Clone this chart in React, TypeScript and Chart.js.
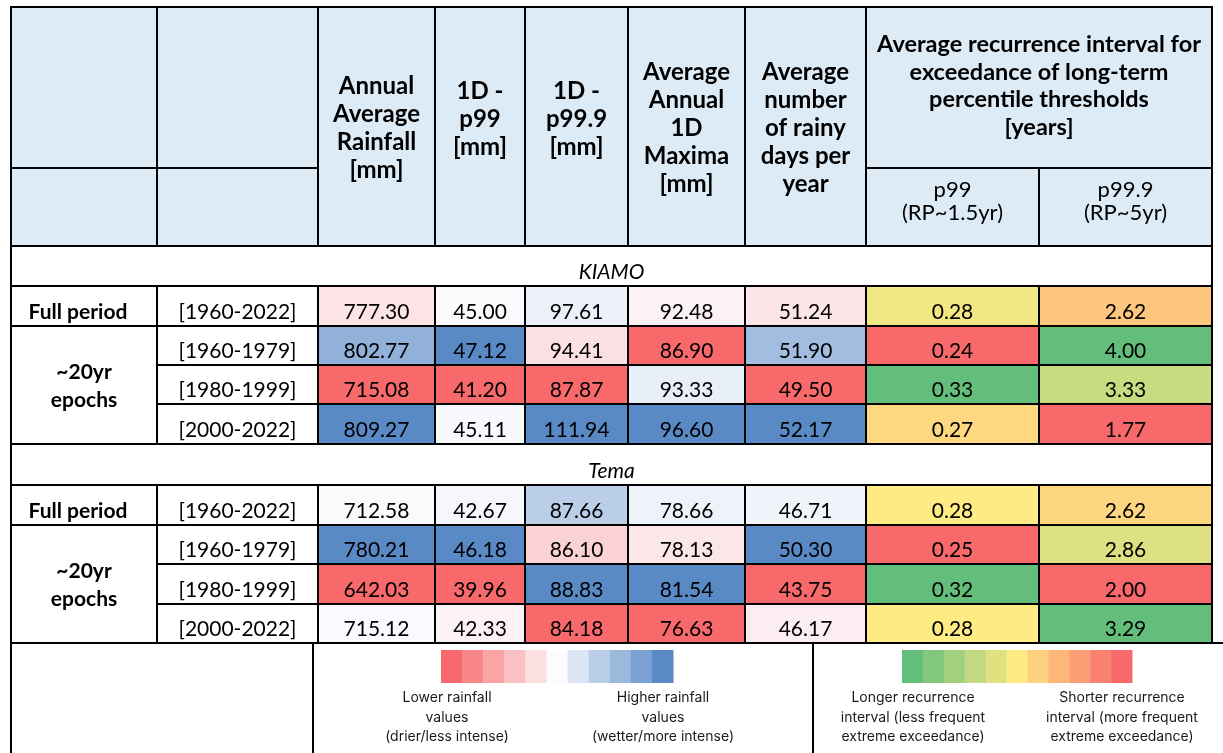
import React, { useEffect, useRef } from "react";
import { Chart, registerables } from "chart.js";

Chart.register(...registerables);

// ---------------- DATA ----------------
const stations = ["KIAMO", "Tema"];
const periodGroups = ["Full period", "~20yr epochs"];
const periods = ["[1960-2022]", "[1960-1979]", "[1980-1999]", "[2000-2022]"];

const columnTitles = [
  ["Annual", "Average", "Rainfall", "[mm]"],
  ["1D -", "p99", "[mm]"],
  ["1D -", "p99.9", "[mm]"],
  ["Average", "Annual", "1D", "Maxima", "[mm]"],
  ["Average", "number", "of rainy", "days per", "year"],
];
const recurrenceTitle = [
  "Average recurrence interval for",
  "exceedance of long-term",
  "percentile thresholds",
  "[years]",
];
const recurrenceSubTitles = [
  ["p99", "(RP~1.5yr)"],
  ["p99.9", "(RP~5yr)"],
];

const kiamoAnnualRainfall = [777.3, 802.77, 715.08, 809.27];
const kiamoP99 = [45.0, 47.12, 41.2, 45.11];
const kiamoP999 = [97.61, 94.41, 87.87, 111.94];
const kiamoAnnualMax = [92.48, 86.9, 93.33, 96.6];
const kiamoRainyDays = [51.24, 51.9, 49.5, 52.17];
const kiamoRecurP99 = [0.28, 0.24, 0.33, 0.27];
const kiamoRecurP999 = [2.62, 4.0, 3.33, 1.77];

const temaAnnualRainfall = [712.58, 780.21, 642.03, 715.12];
const temaP99 = [42.67, 46.18, 39.96, 42.33];
const temaP999 = [87.66, 86.1, 88.83, 84.18];
const temaAnnualMax = [78.66, 78.13, 81.54, 76.63];
const temaRainyDays = [46.71, 50.3, 43.75, 46.17];
const temaRecurP99 = [0.28, 0.25, 0.32, 0.28];
const temaRecurP999 = [2.62, 2.86, 2.0, 3.29];

const legendRainLow = ["Lower rainfall", "values", "(drier/less intense)"];
const legendRainHigh = ["Higher rainfall", "values", "(wetter/more intense)"];
const legendRecLong = ["Longer recurrence", "interval (less frequent", "extreme exceedance)"];
const legendRecShort = ["Shorter recurrence", "interval (more frequent", "extreme exceedance)"];

// ---------------- LAYOUT / STYLE ----------------
const W = 1223;
const H = 753;
const COL_EDGES = [11, 157, 318, 435, 525, 628, 745, 866, 1039, 1212];
const HEADER_TOP = 7;
const HEADER_MID = 168;
const HEADER_BOTTOM = 246;
const BLOCKS = [
  { titleTop: 246, rows: [286, 326, 365, 404, 444] },
  { titleTop: 444, rows: [485, 525, 564, 604, 643] },
];
const LEGEND_BOTTOM = 753;
const LEGEND_DIVIDERS = [313, 813];
const LEGEND_EXTENT = 1223;
const HEADER_FILL = "#DDEBF7";
const FONT = "Lato, 'Open Sans', sans-serif";
const LEGEND_FONT = "Inter, 'Noto Sans', sans-serif";

type RGB = [number, number, number];
const RED: RGB = [248, 105, 107];
const WHITE: RGB = [252, 252, 255];
const BLUE: RGB = [90, 138, 198];
const GREEN: RGB = [99, 190, 123];
const YELLOW: RGB = [255, 235, 132];

function mix(a: RGB, b: RGB, t: number): string {
  const c = a.map((v, i) => Math.round(v + (b[i] - v) * Math.max(0, Math.min(1, t))));
  return `rgb(${c[0]},${c[1]},${c[2]})`;
}

function scaleColor(values: number[], v: number, low: RGB, mid: RGB, high: RGB): string {
  const s = [...values].sort((a, b) => a - b);
  const min = s[0];
  const max = s[s.length - 1];
  const pos = 0.5 * (s.length - 1);
  const lo = Math.floor(pos);
  const hi = Math.ceil(pos);
  const med = s[lo] + (s[hi] - s[lo]) * (pos - lo);
  if (v <= med) {
    const t = med === min ? 1 : (v - min) / (med - min);
    return mix(low, mid, t);
  }
  const t = max === med ? 0 : (v - med) / (max - med);
  return mix(mid, high, t);
}

const valueColumns = [
  { kiamo: kiamoAnnualRainfall, tema: temaAnnualRainfall, kind: "rain" },
  { kiamo: kiamoP99, tema: temaP99, kind: "rain" },
  { kiamo: kiamoP999, tema: temaP999, kind: "rain" },
  { kiamo: kiamoAnnualMax, tema: temaAnnualMax, kind: "rain" },
  { kiamo: kiamoRainyDays, tema: temaRainyDays, kind: "rain" },
  { kiamo: kiamoRecurP99, tema: temaRecurP99, kind: "rec" },
  { kiamo: kiamoRecurP999, tema: temaRecurP999, kind: "rec" },
];

function buildDatasets() {
  return valueColumns.map((col, ci) => {
    const c = ci + 2;
    const cx = (COL_EDGES[c] + COL_EDGES[c + 1]) / 2;
    const points: any[] = [];
    const colors: string[] = [];
    const labels: string[] = [];
    const bounds: [number, number][] = [];
    [col.kiamo, col.tema].forEach((vals, bi) => {
      const rows = BLOCKS[bi].rows;
      vals.forEach((v, ri) => {
        points.push({ x: cx, y: (rows[ri] + rows[ri + 1]) / 2 });
        colors.push(
          col.kind === "rain"
            ? scaleColor(vals, v, RED, WHITE, BLUE)
            : scaleColor(vals, v, RED, YELLOW, GREEN)
        );
        labels.push(v.toFixed(2));
        bounds.push([rows[ri], rows[ri + 1]]);
      });
    });
    return {
      label: "col" + ci,
      data: points,
      pointRadius: 0,
      showLine: false,
      col: c,
      cellColors: colors,
      cellLabels: labels,
      cellBounds: bounds,
    } as any;
  });
}

const tablePlugin = {
  id: "tablePlugin",
  beforeDatasetsDraw(chart: any) {
    const ctx: CanvasRenderingContext2D = chart.ctx;
    const xs = chart.scales.x;
    const ys = chart.scales.y;
    const px = (v: number) => xs.getPixelForValue(v);
    const py = (v: number) => ys.getPixelForValue(v);
    const rect = (x0: number, y0: number, x1: number, y1: number, color: string) => {
      ctx.fillStyle = color;
      ctx.fillRect(px(x0), py(y0), px(x1) - px(x0), py(y1) - py(y0));
    };
    const text = (s: string, x: number, yBase: number, font: string, color = "#000") => {
      ctx.font = font;
      ctx.fillStyle = color;
      ctx.textAlign = "center";
      ctx.textBaseline = "alphabetic";
      ctx.fillText(s, px(x), py(yBase));
    };
    const hline = (x0: number, x1: number, y: number) => {
      ctx.beginPath();
      ctx.moveTo(px(x0) - 1, py(y));
      ctx.lineTo(px(x1) + 1, py(y));
      ctx.stroke();
    };
    const vline = (x: number, y0: number, y1: number) => {
      ctx.beginPath();
      ctx.moveTo(px(x), py(y0) - 1);
      ctx.lineTo(px(x), py(y1) + 1);
      ctx.stroke();
    };
    const E = COL_EDGES;
    const L = E[0];
    const R = E[E.length - 1];

    ctx.save();
    rect(0, 0, W, H, "#ffffff");
    rect(L, HEADER_TOP, R, HEADER_BOTTOM, HEADER_FILL);

    // value cells
    chart.data.datasets.forEach((ds: any, di: number) => {
      const meta = chart.getDatasetMeta(di);
      meta.data.forEach((pt: any, i: number) => {
        const [t, b] = ds.cellBounds[i];
        rect(E[ds.col], t, E[ds.col + 1], b, ds.cellColors[i]);
        ctx.font = `21px ${FONT}`;
        ctx.fillStyle = "#000";
        ctx.textAlign = "center";
        ctx.textBaseline = "alphabetic";
        ctx.fillText(ds.cellLabels[i], pt.x, py(b) - 7);
      });
    });

    // header texts
    const boldH = `bold 24px ${FONT}`;
    columnTitles.forEach((lines, i) => {
      const c = i + 2;
      const cx = (E[c] + E[c + 1]) / 2;
      const center = lines.length === 3 ? 118 : 127;
      lines.forEach((s, k) => {
        const capC = center + (k - (lines.length - 1) / 2) * 28;
        text(s, cx, capC + 8.5, boldH);
      });
    });
    recurrenceTitle.forEach((s, k) => {
      const capC = 85 + (k - 1.5) * 27.7;
      text(s, (E[7] + E[9]) / 2, capC + 8.5, `bold 23.5px ${FONT}`);
    });
    recurrenceSubTitles.forEach((lines, i) => {
      const cx = (E[7 + i] + E[8 + i]) / 2;
      lines.forEach((s, k) => text(s, cx, 189 + k * 23 + 8, `22px ${FONT}`));
    });

    // station blocks
    BLOCKS.forEach((blk, bi) => {
      const rows = blk.rows;
      text(stations[bi], (L + R) / 2, rows[0] - 7, `italic 21px ${FONT}`);
      text(periodGroups[0], (E[0] + E[1]) / 2 - 6, rows[1] - 7, `bold 21px ${FONT}`);
      const ep = periodGroups[1].split(" ");
      const mid = (rows[1] + rows[4]) / 2;
      ep.forEach((s, k) => text(s, (E[0] + E[1]) / 2, mid + (k - 0.5) * 28 + 7.5, `bold 21px ${FONT}`));
      periods.forEach((p, ri) => text(p, (E[1] + E[2]) / 2, rows[ri + 1] - 7, `21px ${FONT}`));
    });

    // legend swatches
    const lgTop = 650;
    const lgBot = 683;
    const drawScale = (x0: number, x1: number, colorAt: (t: number) => string) => {
      const n = 11;
      const w = (x1 - x0) / n;
      for (let i = 0; i < n; i++) {
        rect(x0 + i * w, lgTop, x0 + (i + 1) * w + 0.5, lgBot, colorAt(i / (n - 1)));
      }
    };
    drawScale(441, 673, (t) => (t <= 0.5 ? mix(RED, WHITE, t * 2) : mix(WHITE, BLUE, (t - 0.5) * 2)));
    drawScale(902, 1132, (t) => (t <= 0.5 ? mix(GREEN, YELLOW, t * 2) : mix(YELLOW, RED, (t - 0.5) * 2)));
    const legText = (lines: string[], cx: number) => {
      lines.forEach((s, k) => {
        ctx.font = `14px ${LEGEND_FONT}`;
        ctx.fillStyle = "#1a1a1a";
        ctx.textAlign = "center";
        ctx.textBaseline = "middle";
        ctx.fillText(s, px(cx), py(698 + k * 19.4));
      });
    };
    legText(legendRainLow, 447);
    legText(legendRainHigh, 663);
    legText(legendRecLong, 913);
    legText(legendRecShort, 1122);

    // borders
    ctx.strokeStyle = "#000";
    ctx.lineWidth = 2;
    hline(L, R, HEADER_TOP);
    hline(L, E[2], HEADER_MID);
    hline(E[7], R, HEADER_MID);
    hline(L, R, HEADER_BOTTOM);
    BLOCKS.forEach((blk) => {
      const rows = blk.rows;
      hline(L, R, blk.titleTop);
      hline(L, R, rows[0]);
      hline(L, R, rows[1]);
      hline(E[1], R, rows[2]);
      hline(E[1], R, rows[3]);
      for (let c = 1; c < E.length - 1; c++) vline(E[c], rows[0], rows[4]);
    });
    hline(L, LEGEND_EXTENT, BLOCKS[1].rows[4]);
    for (let c = 1; c <= 7; c++) vline(E[c], HEADER_TOP, HEADER_BOTTOM);
    vline(E[8], HEADER_MID, HEADER_BOTTOM);
    vline(L, HEADER_TOP, LEGEND_BOTTOM);
    vline(R, HEADER_TOP, BLOCKS[1].rows[4]);
    LEGEND_DIVIDERS.forEach((x) => vline(x, BLOCKS[1].rows[4], LEGEND_BOTTOM));
    ctx.restore();
  },
};

export default function App() {
  const ref = useRef<HTMLCanvasElement | null>(null);
  useEffect(() => {
    if (!ref.current) return;
    const chart = new Chart(ref.current, {
      type: "scatter",
      data: { datasets: buildDatasets() },
      options: {
        animation: false,
        responsive: false,
        devicePixelRatio: 1,
        layout: { padding: 0 },
        events: [],
        plugins: { legend: { display: false }, tooltip: { enabled: false } },
        scales: {
          x: { type: "linear", min: 0, max: W, display: false },
          y: { type: "linear", min: 0, max: H, reverse: true, display: false },
        },
      },
      plugins: [tablePlugin],
    } as any);
    return () => chart.destroy();
  }, []);
  return (
    <div style={{ position: "absolute", left: 0, top: 0, width: W, height: H, background: "#fff" }}>
      <canvas ref={ref} width={W} height={H} style={{ display: "block" }} />
    </div>
  );
}
